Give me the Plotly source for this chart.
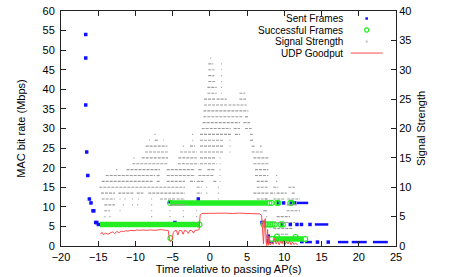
import plotly.graph_objects as go

# ---------------- data ----------------
# Sent Frames (individual points)
sent_t = [-16.68, -16.68, -16.68, -16.55, -16.4, -16.19, -15.97, -15.7, -15.6, -15.34, -15.2, -14.98,
          -5.36, -4.7, -1.56, 7.0, 7.3, 7.85, 7.85, 9.2, 9.9, 11.0, 11.4,
          9.65, 10.8, 11.7, 12.3, 13.45, 14.45, 15.9]
sent_v = [54, 48, 36, 24, 18, 12, 11, 9, 9, 6, 6, 5.5,
          11.3, 6, 12, 6, 6, 1.5, 2.5, 11, 11, 11, 11,
          5.5, 5.5, 5.5, 5.5, 5.5, 1, 1]
# Sent Frames (dense runs)
sent_run_v = [11, 5.5, 1, 1, 1, 1, 1, 1]
sent_run_start = [11.7, 14.1, 7.6, 12.1, 12.8, 17.2, 19.05, 21.9]
sent_run_end = [13.2, 15.9, 8.5, 12.6, 13.7, 18.6, 21.07, 23.9]

# Successful Frames (dense runs and single points)
succ_run_v = [5.5, 11, 1.8]
succ_run_start = [-14.76, -5.36, 8.5]
succ_run_end = [-1.4, 7.8, 12.6]
succ_t = [-5.3, -5.36, -1.4, 7.2, 7.5, 7.8, 8.1, 8.4, 8.7, 9.5, 9.8,
          8.0, 8.3, 9.0, 9.2, 10.8, 11.0, 8.3, 12.8, 9.0, 10.0, 11.5]
succ_v = [2.0, 11, 5.5, 5.5, 5.5, 5.5, 5.5, 5.5, 5.5, 5.5, 5.5,
          11, 11, 11, 11, 11, 11, 1.8, 1.8, 2.4, 1.3, 2.3]

# Signal Strength (rows of readings: level, start time, end time)
sig_level = (
    [32] + [31] * 2 + [30] * 2 + [29] * 2 + [28] * 2 + [27] * 2 + [26] * 3 + [25] * 3 + [24] * 2 + [23]
    + [22] * 2 + [21] * 2 + [20] * 3 + [19] * 5 + [18] * 7 + [17] * 7 + [16] * 5 + [15] * 6 + [14] * 5
    + [13] * 7 + [12] * 7 + [11] * 9 + [10] * 7 + [9] * 11 + [8] * 14 + [7] * 7 + [6] * 9 + [5] * 8
    + [4] * 2 + [3] + [2]
)
sig_start = [
    0.02,
    -0.21, 1.52,
    -0.21, 1.52,
    -0.21, 1.52,
    -0.21, 1.52,
    -0.34, 1.52,
    -0.34, 1.52, 3.96,
    -0.79, 0.9, 3.96,
    -0.79, 2.5,
    -0.88,
    -0.88, 4.72,
    -0.97, 4.5,
    -1.1, 3.2, 4.72,
    -7.45, -2.38, -1.33, 3.38, 5.39,
    -8.18, -7.4, -6.3, -2.38, -1.33, 2.64, 5.39,
    -8.63, -3.63, -2.67, -1.33, 2.64, 5.61, 6.73,
    -8.72, -4.01, -1.33, 2.64, 5.61,
    -10.27, -9.16, -4.24, -1.33, 1.3, 5.84,
    -10.42, -4.3, -1.33, 1.3, 5.84,
    -12.6, -11.2, -5.8, -1.55, -0.34, 1.3, 6.06,
    -14.0, -7.15, -5.8, -1.55, 1.3, 6.06, 8.9,
    -14.54, -7.15, -5.8, -2.67, -1.77, 0.46, 1.3, 6.29, 8.9,
    -14.85, -1.77, -0.5, 1.07, 6.29, 8.52, 10.54,
    -14.63, -12.3, -9.83, -8.27, -1.77, -0.5, 1.07, 5.84, 8.08, 8.97, 10.99,
    -14.54, -12.14, -11.47, -10.47, -9.67, -7.89, -6.7, -4.46, -1.84, 1.07, 6.29, 7.4, 8.52, 10.4,
    -14.18, -11.69, -10.47, -9.77, -7.89, -5.36, 10.31,
    -14.18, -12.14, -7.89, -5.43, -3.64, -1.84, 7.56, 7.18, 10.31,
    -14.17, -13.49, -7.89, -5.43, -3.64, -1.84, 7.56, 8.97,
    -1.84, 8.52,
    8.52,
    9.0,
]
sig_end = [
    0.17,
    0.46, 1.64,
    0.6, 1.64,
    0.6, 1.64,
    0.69, 1.64,
    0.91, 1.64,
    0.91, 1.64, 4.76,
    0.7, 2.26, 4.85,
    2.3, 4.94,
    5.17,
    4.5, 5.17,
    4.05, 5.39,
    2.8, 4.05, 5.61,
    -7.3, -2.25, 2.93, 4.05, 5.75,
    -8.05, -6.9, -6.2, -2.25, 1.81, 2.76, 5.84,
    -5.72, -3.5, -2.0, 1.81, 2.76, 6.06, 6.96,
    -5.67, -1.78, 1.81, 2.76, 7.18,
    -10.13, -5.62, -1.78, 0.69, 1.42, 7.85,
    -5.6, -1.55, 0.91, 1.42, 7.85,
    -12.45, -6.7, -2.0, -1.1, 0.69, 1.42, 7.85,
    -7.37, -6.7, -2.0, 0.46, 1.42, 7.85, 9.05,
    -7.6, -6.7, -3.34, -2.0, -0.88, 0.91, 1.42, 7.85, 9.05,
    -3.34, -1.1, -0.36, 1.2, 7.85, 9.2, 11.43,
    -12.75, -10.28, -8.94, -3.34, -1.1, -0.36, 1.2, 7.85, 8.75, 10.31, 11.43,
    -12.75, -12.0, -11.33, -10.33, -9.53, -7.75, -4.68, -3.34, -1.7, 1.2, 7.85, 7.63, 10.0, 12.1,
    -12.75, -11.55, -10.33, -9.63, -7.75, -3.34, 11.66,
    -13.42, -12.0, -7.75, -5.29, -3.5, -1.7, 7.7, 7.63, 12.1,
    -14.03, -13.35, -7.75, -5.29, -3.5, -1.7, 7.7, 10.76,
    -1.7, 11.43,
    11.21,
    10.5,
]

# UDP Goodput
udp_t = [-14.7, -14.5, -14.3, -14.0, -13.7, -13.4, -13.1, -12.8, -12.5, -12.2, -11.9, -11.6, -11.3, -11.0,
         -10.6, -10.2, -9.8, -9.4, -9.0, -8.5, -8.0, -7.5, -7.0, -6.5, -6.0, -5.6, -5.45, -5.3, -5.1,
         -4.9, -4.7, -4.5, -4.3, -4.1, -3.8, -3.6, -3.4, -3.1, -2.9, -2.7, -2.4, -2.2, -2.0, -1.7, -1.45,
         -1.3, -1.1, 0, 1, 2, 3, 4, 5, 6, 6.7, 6.95, 7.1, 7.2, 7.35, 7.45, 7.55, 7.65, 7.75, 7.85,
         7.95, 8.1, 8.3, 8.5, 8.7, 8.9, 9.1, 9.3, 9.5, 9.7, 9.9, 10.1, 10.3, 10.5, 10.7, 10.9, 11.1,
         11.3, 11.5, 11.8]
udp_v = [3.0, 3.5, 2.9, 3.3, 3.0, 3.4, 3.6, 3.2, 3.7, 3.4, 3.8, 3.7, 3.9, 3.8,
         4.0, 3.9, 4.1, 4.0, 4.1, 4.0, 4.1, 4.0, 4.1, 4.2, 4.0, 4.0, 2.0, 1.1, 1.5,
         3.5, 3.9, 4.0, 2.8, 4.0, 3.9, 3.0, 4.0, 3.8, 3.2, 4.0, 3.9, 3.3, 4.0, 4.0, 4.2,
         8.0, 8.3, 8.4, 8.3, 8.4, 8.3, 8.4, 8.3, 8.3, 8.2, 7.8, 4.0, 0.5, 6.5, 7.0, 1.0, 0.1, 4.2, 0.2,
         2.5, 0.3, 1.0, 0.4, 2.0, 0.5, 1.4, 0.3, 1.2, 0.6, 1.5, 0.4, 1.1, 0.5, 1.3, 0.3, 1.0,
         0.4, 0.8, 0.2]

x_ticks = [-20, -15, -10, -5, 0, 5, 10, 15, 20, 25]
legend_labels = ["Sent Frames", "Successful Frames", "Signal Strength", "UDP Goodput"]


def runs(levels, starts, ends):
    xs, ys = [], []
    for v, s, e in zip(levels, starts, ends):
        xs += [s, e, None]
        ys += [v, v, None]
    return xs, ys


BLUE = "#1010ff"
GREEN = "#22ee22"
GREY = "#9c9c9c"
RED = "#ff4a4a"
FONT = "Liberation Sans, Arial, sans-serif"

fig = go.Figure()

sx, sy = runs(sig_level, sig_start, sig_end)
fig.add_trace(go.Scatter(x=sx, y=sy, mode="lines", yaxis="y2", name="Signal Strength",
                         line=dict(color=GREY, width=1.2, dash="3px,1px"), showlegend=False))

bx, by = runs(sent_run_v, sent_run_start, sent_run_end)
fig.add_trace(go.Scatter(x=bx, y=by, mode="lines", line=dict(color=BLUE, width=2.5), showlegend=False))
fig.add_trace(go.Scatter(x=sent_t, y=sent_v, mode="markers", name="Sent Frames",
                         marker=dict(symbol="square", size=3.5, color=BLUE, line=dict(width=0)),
                         showlegend=False))

gx, gy = runs(succ_run_v, succ_run_start, succ_run_end)
fig.add_trace(go.Scatter(x=gx, y=gy, mode="lines", line=dict(color=GREEN, width=5.5), showlegend=False))
fig.add_trace(go.Scatter(x=succ_t, y=succ_v, mode="markers", name="Successful Frames",
                         marker=dict(symbol="circle-open", size=5, color=GREEN, line=dict(width=1.2)),
                         showlegend=False))

fig.add_trace(go.Scatter(x=udp_t, y=udp_v, mode="lines", name="UDP Goodput",
                         line=dict(color=RED, width=1), showlegend=False))

# custom gnuplot-style legend (text right aligned, symbol to the right)
leg_y = [0.968, 0.919, 0.870, 0.821]
annotations = []
for lab, yy in zip(legend_labels, leg_y):
    annotations.append(dict(xref="paper", yref="paper", x=0.845, y=yy, text=lab, showarrow=False,
                            xanchor="right", yanchor="middle", borderpad=0,
                            font=dict(size=10, color="black", family=FONT)))
sym_x = 0.9125
shapes = [
    dict(type="rect", xref="paper", yref="paper", x0=sym_x - 0.004, x1=sym_x + 0.004,
         y0=leg_y[0] - 0.005, y1=leg_y[0] + 0.005, fillcolor=BLUE, line=dict(width=0)),
    dict(type="circle", xref="paper", yref="paper", x0=sym_x - 0.006, x1=sym_x + 0.006,
         y0=leg_y[1] - 0.009, y1=leg_y[1] + 0.009, line=dict(color=GREEN, width=1.2)),
    dict(type="rect", xref="paper", yref="paper", x0=sym_x - 0.003, x1=sym_x + 0.003,
         y0=leg_y[2] - 0.004, y1=leg_y[2] + 0.004, fillcolor="#bbbbbb", line=dict(width=0)),
    dict(type="line", xref="paper", yref="paper", x0=0.865, x1=0.96, y0=leg_y[3], y1=leg_y[3],
         line=dict(color=RED, width=1)),
]

axis_common = dict(showgrid=False, zeroline=False, showline=True, linecolor="#222", linewidth=1,
                   ticks="inside", ticklen=5, tickcolor="#222", automargin=False,
                   tickfont=dict(size=11, color="black", family=FONT))

fig.update_layout(
    width=457, height=277,
    margin=dict(l=61, r=61, t=11, b=31),
    paper_bgcolor="white", plot_bgcolor="white",
    showlegend=False,
    font=dict(family=FONT, size=11, color="black"),
    xaxis=dict(range=[-20, 25], tickvals=x_ticks, mirror="ticks", ticklabelstandoff=1,
               title=dict(text="Time relative to passing AP(s)", font=dict(size=11), standoff=0),
               **axis_common),
    yaxis=dict(range=[0, 60], dtick=5, ticklabelstandoff=3,
               title=dict(text="MAC bit rate (Mbps)", font=dict(size=11), standoff=14),
               **axis_common),
    yaxis2=dict(range=[0, 40], dtick=5, overlaying="y", side="right",
                title=dict(text="Signal Strength", font=dict(size=11), standoff=6),
                **axis_common),
    annotations=annotations,
    shapes=shapes,
)

fig.write_html("out.html", config={"displayModeBar": False},
               post_script="document.body.style.margin='0';document.body.style.overflow='hidden';")
